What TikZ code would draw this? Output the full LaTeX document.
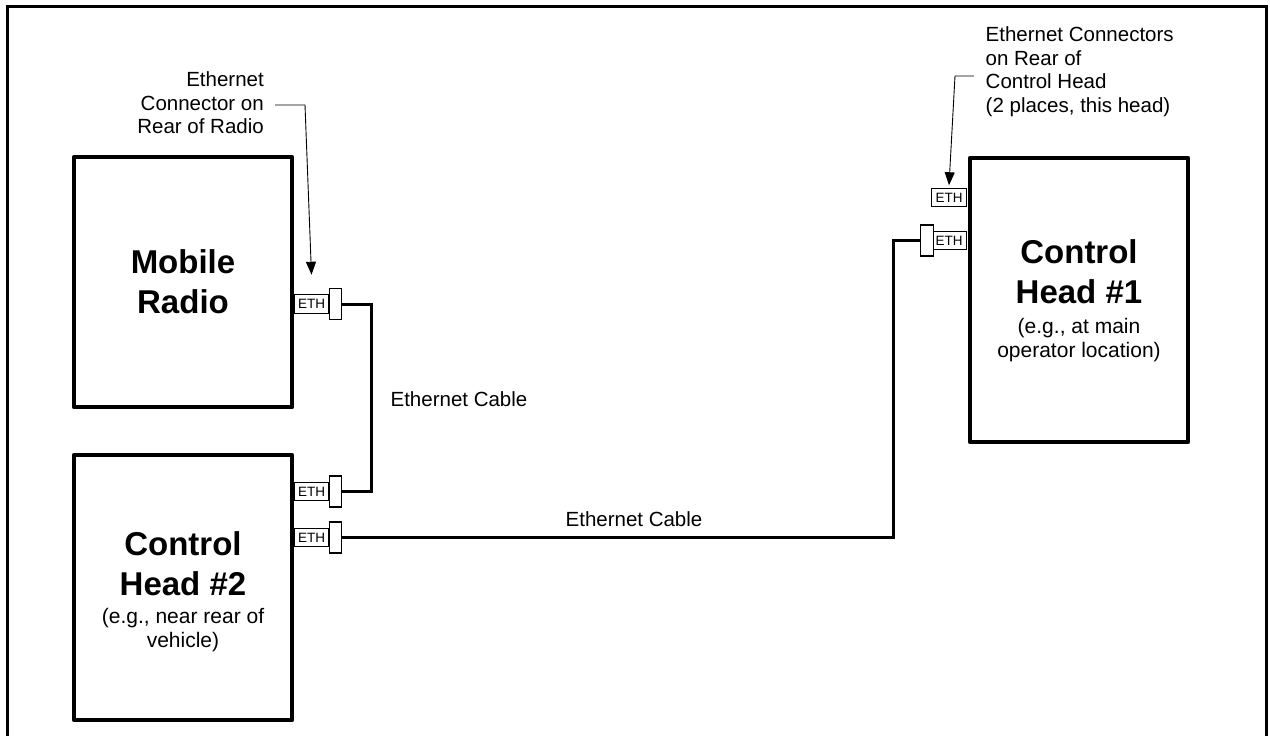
\documentclass[tikz,border=0pt]{standalone}
\usepackage{fontspec}
\setmainfont{Liberation Sans}
\usetikzlibrary{arrows.meta}
\begin{document}
\begin{tikzpicture}[x=1pt,y=-1pt,
  unit/.style={draw, line width=4.5pt, line join=round, minimum width=218pt, inner sep=0pt, outer sep=0pt},
  ethbox/.style={draw, line width=1.2pt, fill=white, minimum width=35pt, minimum height=18.5pt, inner sep=0pt, outer sep=0pt, font=\fontsize{13.5}{15}\selectfont},
  plug/.style={draw, line width=1.4pt, fill=white, minimum width=12.5pt, minimum height=31pt, inner sep=0pt, outer sep=0pt},
  cable/.style={line width=3pt},
  leader/.style={line width=0.9pt, -{Triangle[length=13pt,width=10pt]}},
  title/.style={font=\fontsize{33}{40}\selectfont\bfseries, align=center, inner sep=0pt},
  sub/.style={font=\fontsize{21}{23.5}\selectfont, align=center, inner sep=0pt},
  note/.style={font=\fontsize{20.5}{23.5}\selectfont, inner sep=0pt}
]
\useasboundingbox (0,0) rectangle (1270,736);
\draw[line width=3pt] (7.5,737) -- (7.5,6) -- (1266,6) -- (1266,737);

% units
\node[unit, minimum height=250pt] (mr) at (183,282) {};
\node[unit, minimum height=265pt] (c2) at (183,587.5) {};
\node[unit, minimum height=284pt] (c1) at (1079,300) {};

% texts in units
\node[title] (mrT) at (183,282) {Mobile\\Radio};
\node[title] (c2T) at (183,563.5) {Control\\Head \#2};
\node[sub] (c2S) at (183,630) {(e.g., near rear of\\vehicle)};
\node[title] (c1T) at (1079,272) {Control\\Head \#1};
\node[sub] (c1S) at (1079,340) {(e.g., at main\\operator location)};

% ETH connectors
\node[ethbox] (ethMR) at (311.5,304) {ETH};
\node[plug] (plMR) at (335.5,304) {};
\node[ethbox] (ethC2a) at (311.5,491.5) {ETH};
\node[plug] (plC2a) at (335.5,491.5) {};
\node[ethbox] (ethC2b) at (311.5,537.5) {ETH};
\node[plug] (plC2b) at (335.5,537.5) {};
\node[ethbox] (ethC1a) at (949,197.5) {ETH};
\node[ethbox] (ethC1b) at (949,240.5) {ETH};
\node[plug] (plC1b) at (927,240.5) {};

% cables
\coordinate (bendA) at (371,304);
\draw[cable] (plMR.east) -- (bendA) |- (plC2a.east);
\coordinate (bendB) at (893,537.5);
\draw[cable] (plC2b.east) -- (bendB) |- (plC1b.west);

% labels
\node[note] (cabA) at (459,399) {Ethernet Cable};
\node[note] (cabB) at (634,519) {Ethernet Cable};
\node[note, anchor=east, align=right] (nA) at (264,103) {Ethernet\\Connector on\\Rear of Radio};
\node[note, anchor=west, align=left] (nB) at (985.5,71.5) {Ethernet Connectors\\on Rear of\\Control Head\\(2 places, this head)};

% leaders
\coordinate (lA) at (275,105);
\coordinate (kA) at (305,105);
\draw[leader] (lA) -- (kA) -- ([yshift=20pt]ethMR.north);
\coordinate (lB) at (974,76);
\coordinate (kB) at (955,76);
\draw[leader] (lB) -- (kB) -- ([yshift=3pt]ethC1a.north);
\end{tikzpicture}
\end{document}
